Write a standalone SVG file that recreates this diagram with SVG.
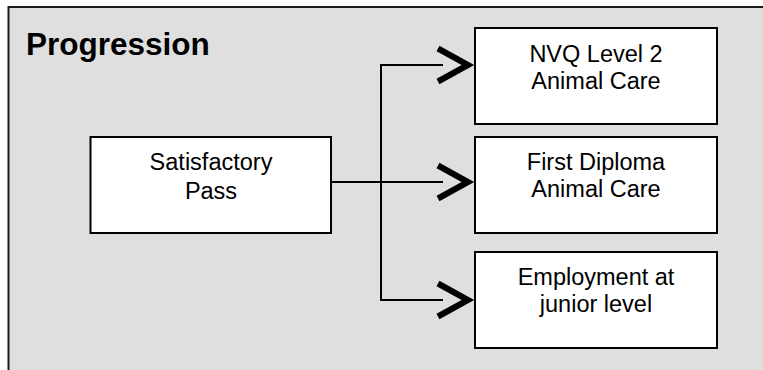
<svg xmlns="http://www.w3.org/2000/svg" width="763" height="370" viewBox="0 0 763 370">
<style>
.frame{fill:#dfdfdf;stroke:#1a1a1a;stroke-width:2}
.box{fill:#ffffff;stroke:#000;stroke-width:2}
.line{fill:none;stroke:#000;stroke-width:2}
.chev{fill:none;stroke:#000;stroke-width:6;stroke-linejoin:miter;stroke-miterlimit:10}
.t{font-family:"Liberation Sans",Arial,sans-serif;font-size:23.5px;fill:#000;text-anchor:middle}
.title{font-family:"Liberation Sans",Arial,sans-serif;font-size:31.5px;font-weight:bold;fill:#000}
</style>
<rect class="frame" x="8.5" y="7" width="800" height="400"/>
<text class="title" x="26" y="54.5">Progression</text>
<g id="connectors">
<path class="line" d="M331,182 H443"/>
<path class="line" d="M443,65 H381 V300 H443"/>
<polyline class="chev" points="438,48.5 468,65 438,81.5"/>
<polyline class="chev" points="438,165.5 468,182 438,198.5"/>
<polyline class="chev" points="438,283.5 468,300 438,316.5"/>
</g>
<g id="satisfactory">
<rect class="box" x="90.5" y="137" width="240.5" height="96"/>
<text class="t" x="211" y="169.5">Satisfactory</text>
<text class="t" x="211" y="198.5">Pass</text>
</g>
<g id="nvq">
<rect class="box" x="475" y="28" width="242" height="96"/>
<text class="t" x="596" y="61.5">NVQ Level 2</text>
<text class="t" x="596" y="89">Animal Care</text>
</g>
<g id="diploma">
<rect class="box" x="475" y="137" width="242" height="96"/>
<text class="t" x="596" y="170">First Diploma</text>
<text class="t" x="596" y="197">Animal Care</text>
</g>
<g id="employment">
<rect class="box" x="475" y="252" width="242" height="96"/>
<text class="t" x="596" y="285">Employment at</text>
<text class="t" x="596" y="312">junior level</text>
</g>
</svg>
